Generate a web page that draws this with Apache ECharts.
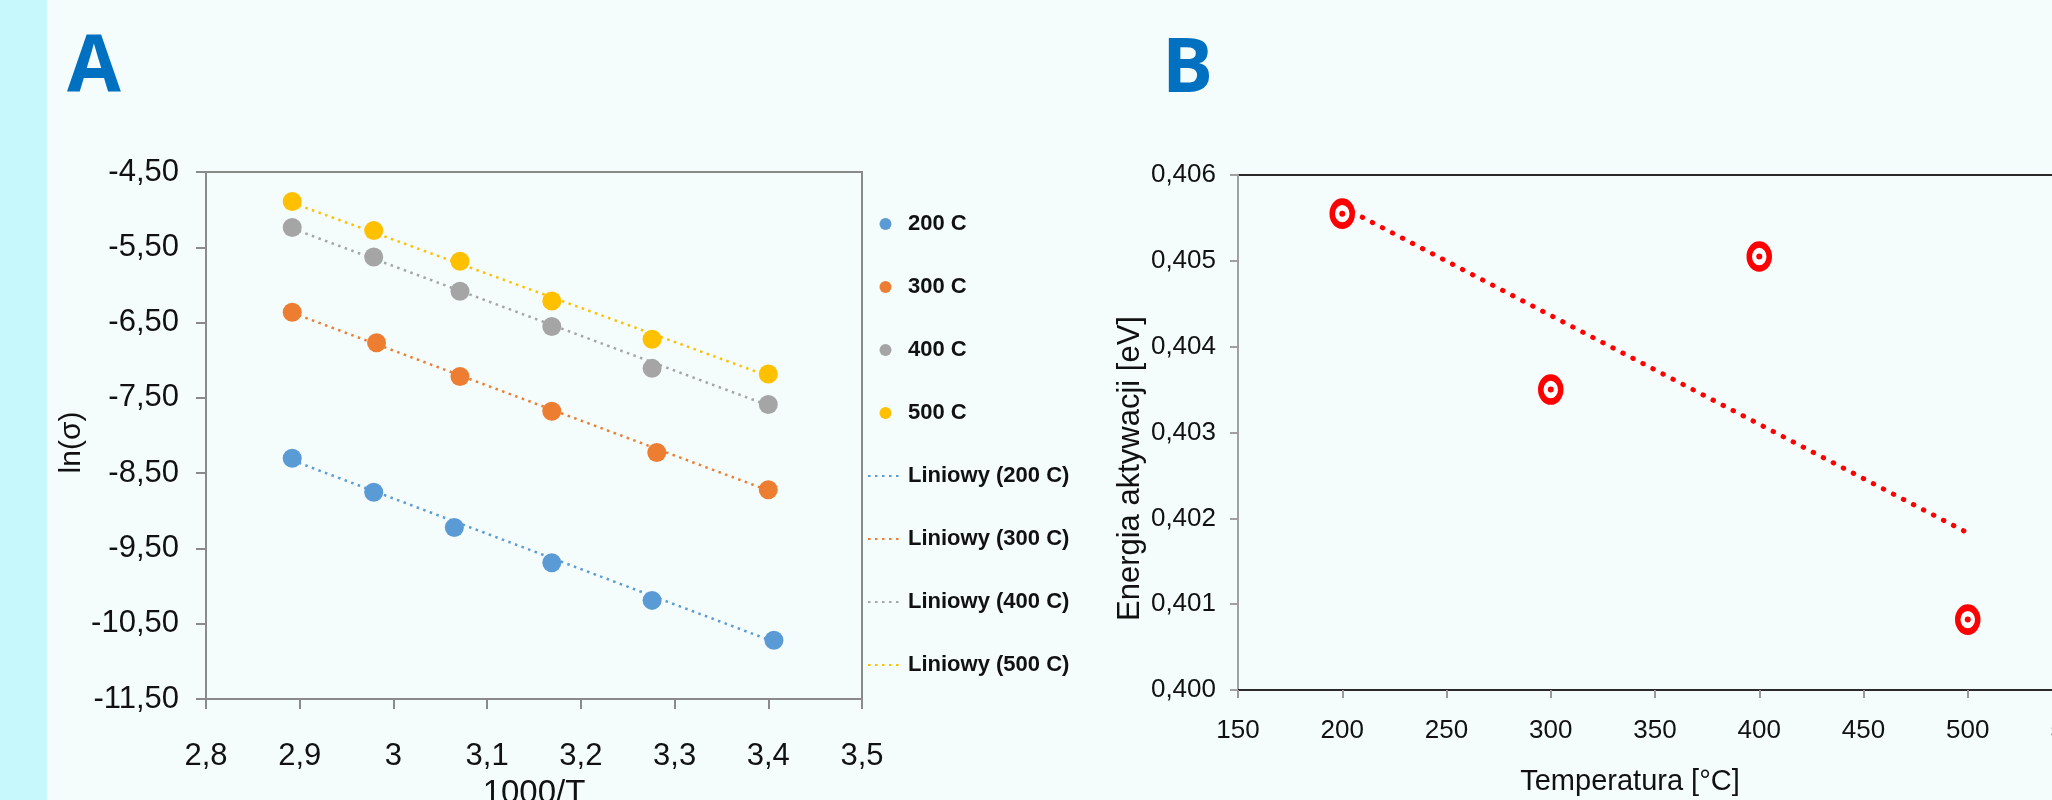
<!DOCTYPE html>
<html>
<head>
<meta charset="utf-8">
<script src="https://cdn.jsdelivr.net/npm/echarts@6/dist/echarts.min.js"></script>
<style>
html,body{margin:0;padding:0;background:#f4fcfc;}
#chart{width:2052px;height:800px;}
</style>
</head>
<body>
<div id="chart"></div>
<script>
// ---------- Chart A data: ln(sigma) vs 1000/T ----------
const namesA = ['200 C', '300 C', '400 C', '500 C'];
const trendNamesA = ['Liniowy (200 C)', 'Liniowy (300 C)', 'Liniowy (400 C)', 'Liniowy (500 C)'];
const x200 = [2.892, 2.979, 3.065, 3.169, 3.276, 3.406];
const y200 = [-8.301, -8.754, -9.222, -9.690, -10.190, -10.719];
const x300 = [2.892, 2.982, 3.071, 3.169, 3.281, 3.400];
const y300 = [-6.362, -6.769, -7.216, -7.677, -8.225, -8.720];
const x400 = [2.892, 2.979, 3.071, 3.169, 3.276, 3.400];
const y400 = [-5.238, -5.630, -6.085, -6.552, -7.108, -7.589];
const x500 = [2.892, 2.979, 3.071, 3.169, 3.276, 3.400];
const y500 = [-4.892, -5.278, -5.685, -6.213, -6.722, -7.183];
// trendline end points
const trendX200 = [2.892, 3.406], trendY200 = [-8.33, -10.74];
const trendX300 = [2.892, 3.400], trendY300 = [-6.37, -8.73];
const trendX400 = [2.892, 3.400], trendY400 = [-5.25, -7.60];
const trendX500 = [2.892, 3.400], trendY500 = [-4.91, -7.21];
const xTicksA = [2.8, 2.9, 3.0, 3.1, 3.2, 3.3, 3.4, 3.5];
const yTicksA = [-11.5, -10.5, -9.5, -8.5, -7.5, -6.5, -5.5, -4.5];

// ---------- Chart B data: activation energy vs temperature ----------
const tempB = [200, 300, 400, 500];
const energyB = [0.40555, 0.40350, 0.40505, 0.40082];
const trendTempB = [200, 500];
const trendEnergyB = [0.40563, 0.40183];
const xTicksB = [150, 200, 250, 300, 350, 400, 450, 500, 550];
const yTicksB = [0.400, 0.401, 0.402, 0.403, 0.404, 0.405, 0.406];

const colorsA = ['#5b9bd5', '#ed7d31', '#a5a5a5', '#ffc000'];
const FONT = 'Liberation Sans';

const zip = (xs, ys) => xs.map((x, i) => [x, ys[i]]);
const ptsA = [zip(x200, y200), zip(x300, y300), zip(x400, y400), zip(x500, y500)];
const trA = [zip(trendX200, trendY200), zip(trendX300, trendY300), zip(trendX400, trendY400), zip(trendX500, trendY500)];

const commaNum = (v, d) => (d == null ? String(Math.round(v * 10) / 10) : v.toFixed(d)).replace('.', ',');

const series = [];
for (let i = 0; i < 4; i++) {
  series.push({
    name: trendNamesA[i], type: 'line', xAxisIndex: 0, yAxisIndex: 0,
    data: trA[i], symbol: 'none', z: 2,
    lineStyle: { color: colorsA[i], width: 2.5, type: [2.5, 4.5] },
    itemStyle: { color: colorsA[i] }
  });
}
for (let i = 0; i < 4; i++) {
  series.push({
    name: namesA[i], type: 'scatter', xAxisIndex: 0, yAxisIndex: 0,
    data: ptsA[i], symbol: 'circle', symbolSize: 19, z: 3,
    itemStyle: { color: colorsA[i], opacity: 1 }
  });
}
series.push({
  name: 'trendB', type: 'line', xAxisIndex: 1, yAxisIndex: 1,
  data: zip(trendTempB, trendEnergyB), symbol: 'none', z: 2,
  lineStyle: { color: '#ff0000', width: 5, type: [0.5, 10.8], cap: 'round' }
});
series.push({
  name: 'pointsB', type: 'scatter', xAxisIndex: 1, yAxisIndex: 1,
  data: zip(tempB, energyB), symbol: 'circle', symbolSize: [20, 24], z: 3,
  itemStyle: { color: '#ffffff', borderColor: '#ff0000', borderWidth: 6, opacity: 1 }
});
series.push({
  name: 'pointsBcenter', type: 'scatter', xAxisIndex: 1, yAxisIndex: 1,
  data: zip(tempB, energyB), symbol: 'circle', symbolSize: 6, z: 4,
  itemStyle: { color: '#ff0000', opacity: 1 }
});

const legendData = namesA.map(n => ({ name: n })).concat(
  trendNamesA.map(n => ({ name: n, itemStyle: { opacity: 0 } }))
);

const chart = echarts.init(document.getElementById('chart'), null, { renderer: 'canvas' });
chart.setOption({
  backgroundColor: '#f4fcfc',
  animation: false,
  graphic: [{ type: 'rect', left: 0, top: 0, shape: { width: 47, height: 800 }, style: { fill: '#c6f8fc' }, z: -10 }],
  title: [
    { text: 'A', left: 62, top: 25, textStyle: { fontFamily: 'Open Sans', fontWeight: 'bold', fontSize: 78, color: '#0070c0' } },
    { text: 'B', left: 1157, top: 27, textStyle: { fontFamily: 'Open Sans', fontWeight: 'bold', fontSize: 76, color: '#0070c0' } }
  ],
  legend: {
    orient: 'vertical', left: 862, top: 208,
    itemWidth: 35, itemHeight: 12, itemGap: 41,
    data: legendData,
    textStyle: { fontFamily: FONT, fontSize: 22, fontWeight: 'bold', color: '#111', lineHeight: 22 }
  },
  grid: [
    { left: 206, top: 172, width: 656, height: 527, show: true, borderColor: '#8a8a8a', borderWidth: 2, backgroundColor: 'transparent', outerBoundsMode: 'none', containLabel: false },
    { left: 1238, top: 175, width: 834, height: 515, show: true, borderColor: '#2a2a2a', borderWidth: 2, backgroundColor: 'transparent', outerBoundsMode: 'none', containLabel: false }
  ],
  xAxis: [
    {
      type: 'value', gridIndex: 0, min: 2.8, max: 3.5,
      name: '1000/T', nameLocation: 'middle', nameGap: 78,
      nameTextStyle: { fontFamily: FONT, fontSize: 33, color: '#111' },
      axisLine: { show: true, lineStyle: { color: '#8a8a8a', width: 2 } },
      axisTick: { show: true, length: 10, lineStyle: { color: '#8a8a8a', width: 2 }, customValues: xTicksA },
      axisLabel: { fontFamily: FONT, fontSize: 31, color: '#111', margin: 42, customValues: xTicksA, formatter: v => commaNum(v) },
      splitLine: { show: false }
    },
    {
      type: 'value', gridIndex: 1, min: 150, max: 550,
      name: 'Temperatura [°C]', nameLocation: 'middle', nameGap: 77,
      nameTextStyle: { fontFamily: FONT, fontSize: 29, color: '#111', padding: [0, 50, 0, 0] },
      axisLine: { show: true, lineStyle: { color: '#2a2a2a', width: 2 } },
      axisTick: { show: true, length: 8, lineStyle: { color: '#9a9a9a', width: 2 }, customValues: xTicksB },
      axisLabel: { fontFamily: FONT, fontSize: 26, color: '#111', margin: 28, customValues: xTicksB, formatter: v => String(v) },
      splitLine: { show: false }
    }
  ],
  yAxis: [
    {
      type: 'value', gridIndex: 0, min: -11.5, max: -4.5,
      name: 'ln(σ)', nameLocation: 'middle', nameGap: 108,
      nameTextStyle: { fontFamily: FONT, fontSize: 30, color: '#111', padding: [0, 14, 0, 0] },
      axisLine: { show: true, lineStyle: { color: '#8a8a8a', width: 2 } },
      axisTick: { show: true, length: 10, lineStyle: { color: '#8a8a8a', width: 2 }, customValues: yTicksA },
      axisLabel: { fontFamily: FONT, fontSize: 31, color: '#111', margin: 27, customValues: yTicksA, formatter: v => commaNum(v, 2) },
      splitLine: { show: false }
    },
    {
      type: 'value', gridIndex: 1, min: 0.400, max: 0.406,
      name: 'Energia aktywacji [eV]', nameLocation: 'middle', nameGap: 92,
      nameTextStyle: { fontFamily: FONT, fontSize: 31, color: '#111', padding: [0, 72, 0, 0] },
      axisLine: { show: true, lineStyle: { color: '#a0a0a0', width: 2 } },
      axisTick: { show: true, length: 8, lineStyle: { color: '#a0a0a0', width: 2 }, customValues: yTicksB },
      axisLabel: { fontFamily: FONT, fontSize: 26, color: '#111', margin: 22, customValues: yTicksB, formatter: v => commaNum(v, 3) },
      splitLine: { show: false }
    }
  ],
  series: series
});
</script>
</body>
</html>
